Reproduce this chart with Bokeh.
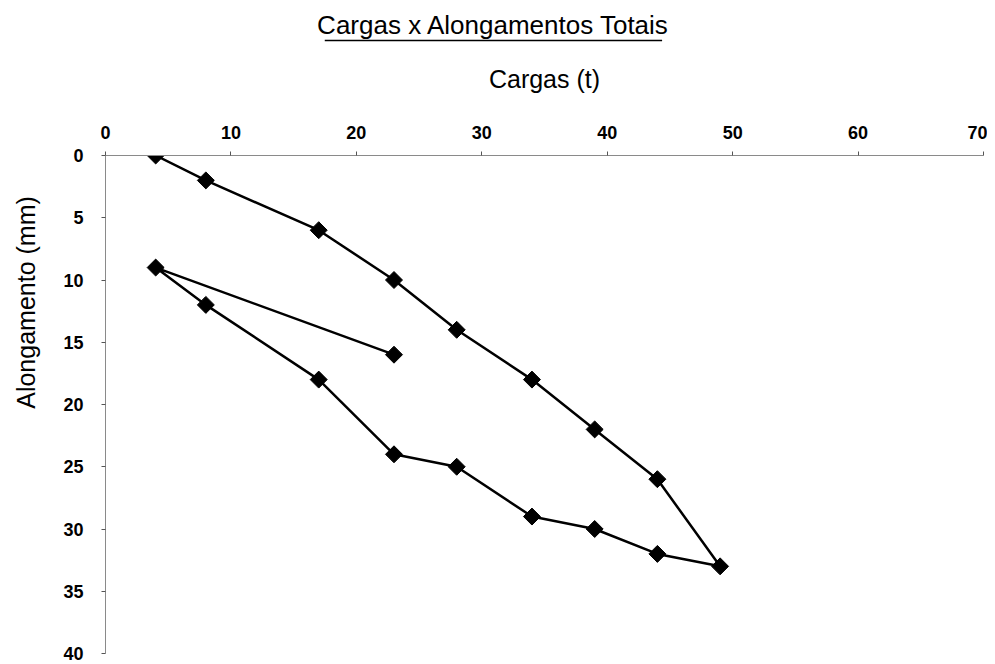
import math
from bokeh.plotting import figure
from bokeh.layouts import row, column
from bokeh.models import Range1d, FixedTicker
from bokeh.core.properties import value
from bokeh.embed import file_html
from bokeh.resources import INLINE

cargas = [4, 8, 17, 23, 28, 34, 39, 44, 49, 44, 39, 34, 28, 23, 17, 8, 4, 23]
alongamentos = [0, 2, 6, 10, 14, 18, 22, 26, 33, 32, 30, 29, 25, 24, 18, 12, 9, 16]
x_ticks = [0, 10, 20, 30, 40, 50, 60, 70]
y_ticks = [0, 5, 10, 15, 20, 25, 30, 35, 40]
title_text = "Cargas x Alongamentos Totais"
x_label = "Cargas (t)"
y_label = "Alongamento (mm)"

FONT = "Liberation Sans"
LEFT_W = 50
HEAD_H = 50
TOTAL_W = 987
TOTAL_H = 664
PLOT_LEFT = 105      # page x of the frame's left edge
PLOT_TOP = 155       # page y of the frame's top edge
PLOT_BOTTOM = 653    # page y of the frame's bottom edge


def blank(fig):
    fig.xaxis.visible = False
    fig.yaxis.visible = False
    fig.xgrid.visible = False
    fig.ygrid.visible = False
    fig.outline_line_color = None


# left strip holding the vertical axis title (pixel coordinates)
left = figure(width=LEFT_W, height=TOTAL_H, output_backend="svg", toolbar_location=None,
              x_range=Range1d(0, LEFT_W), y_range=Range1d(TOTAL_H, 0),
              min_border_left=0, min_border_right=0, min_border_top=0, min_border_bottom=0)
blank(left)
left.text(x=[25], y=[302], text=[y_label], angle=math.pi / 2, text_align="center",
          text_baseline="middle", text_font=value(FONT), text_font_size="25px", text_color="black")

# header holding the underlined chart title (pixel coordinates)
head = figure(width=TOTAL_W - LEFT_W, height=HEAD_H, output_backend="svg", toolbar_location=None,
              x_range=Range1d(LEFT_W, TOTAL_W), y_range=Range1d(HEAD_H, 0),
              min_border_left=0, min_border_right=0, min_border_top=0, min_border_bottom=0)
blank(head)
head.text(x=[464], y=[24], text=[title_text], text_align="center", text_baseline="middle",
          text_font=value(FONT), text_font_size="26px", text_color="black")
head.segment(x0=[284], y0=[40], x1=[644], y1=[40], line_color="black", line_width=1.4)

# main chart
p = figure(width=TOTAL_W - LEFT_W, height=TOTAL_H - HEAD_H, output_backend="svg",
           toolbar_location=None, x_axis_location="above",
           x_range=Range1d(0, 70), y_range=Range1d(40, 0),
           min_border_left=PLOT_LEFT - LEFT_W, min_border_right=4,
           min_border_top=PLOT_TOP - HEAD_H, min_border_bottom=TOTAL_H - PLOT_BOTTOM)
p.outline_line_color = None
p.xgrid.visible = False
p.ygrid.visible = False

for ax in (p.xaxis[0], p.yaxis[0]):
    ax.axis_line_color = "#8a8a8a"
    ax.axis_line_width = 1
    ax.major_tick_line_color = "#555555"
    ax.major_tick_out = 4
    ax.major_tick_in = 0
    ax.minor_tick_out = 0
    ax.minor_tick_in = 0
    ax.major_label_text_font = FONT
    ax.major_label_text_font_style = "bold"
    ax.major_label_text_font_size = "18px"
    ax.major_label_text_color = "black"
    ax.axis_label_text_font = FONT
    ax.axis_label_text_font_style = "normal"
    ax.axis_label_text_font_size = "25px"
    ax.axis_label_text_color = "black"

p.xaxis.ticker = FixedTicker(ticks=x_ticks)
p.yaxis.ticker = FixedTicker(ticks=y_ticks)
p.xaxis.major_label_standoff = 13
p.yaxis.major_label_standoff = 18
p.xaxis.axis_label = x_label
p.xaxis.axis_label_standoff = 30

p.line(cargas, alongamentos, line_color="black", line_width=2.5)
p.scatter(cargas, alongamentos, marker="square", angle=math.pi / 4, size=12,
          fill_color="black", line_color="black")

layout = row(left, column(head, p))
open("out.html", "w").write(file_html(layout, INLINE))
